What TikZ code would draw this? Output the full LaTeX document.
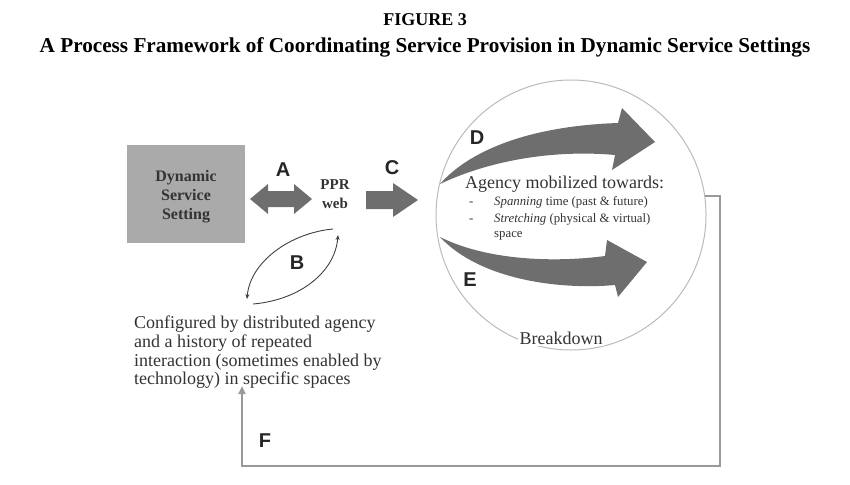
\documentclass[tikz,border=0pt]{standalone}
\usepackage{fontspec}
\setmainfont{Liberation Serif}
\newfontfamily\lettfont{Liberation Sans}
\usetikzlibrary{arrows.meta}
\definecolor{fatgray}{HTML}{6E6E6E}
\definecolor{boxgray}{HTML}{AAAAAA}
\definecolor{linegray}{HTML}{999999}
\definecolor{circgray}{HTML}{BBBBBB}
\tikzset{
  letter/.style={font=\lettfont\bfseries\fontsize{20}{20}\selectfont, text=black!85},
  fat/.style={fill=fatgray, draw=none},
  body/.style={font=\fontsize{18}{18.7}\selectfont, text=black!80},
  small/.style={font=\fontsize{12.8}{17}\selectfont, text=black!80},
  bold/.style={font=\bfseries\fontsize{16}{19}\selectfont, text=black!80},
  thin/.style={draw=black!75, line width=0.9pt, -{Stealth[length=5pt,width=4pt]}},
}
\begin{document}
\begin{tikzpicture}[x=1pt,y=-1pt]
\useasboundingbox (0,0) rectangle (850,484);
% title
\node[font=\bfseries\fontsize{18}{20}\selectfont] (t1) at (425,20) {FIGURE 3};
\node[font=\bfseries\fontsize{21.2}{22}\selectfont] (t2) at (425,47) {A Process Framework of Coordinating Service Provision in Dynamic Service Settings};
% dynamic service setting
\node[fill=boxgray, minimum width=118pt, minimum height=98pt, inner sep=0pt] (dss) at (186,194) {};
\node[bold, align=center] (dsstext) at (186,197) {Dynamic\\Service\\Setting};
% PPR web
\node[bold, font=\bfseries\fontsize{15}{19}\selectfont, align=center] (ppr) at (335,194) {PPR\\web};
% double arrow A
\fill[fat] (250,199) -- (268,184) -- (268,191) -- (294,191) -- (294,184) -- (312,199) -- (294,214) -- (294,207) -- (268,207) -- (268,214) -- cycle;
\node[letter] (A) at (283,170) {A};
% arrow C
\fill[fat] (366,191) -- (393,191) -- (393,183) -- (418,200) -- (393,217) -- (393,209) -- (366,209) -- cycle;
\node[letter] (C) at (392,168) {C};
% circle
\node[circle, draw=circgray, line width=1pt, minimum size=270pt, inner sep=0pt] (circ) at (571,215) {};
\node[body, fill=white, inner sep=2pt, anchor=base] (bd) at (561,344) {Breakdown};
% fat arrow D
\fill[fat] (440,184) .. controls (470,150) and (530,126) .. (618,123)
  -- (622,108) -- (655,142) -- (612,170) -- (615,155)
  .. controls (560,150) and (495,158) .. (440,184) -- cycle;
\node[letter] (D) at (477,138) {D};
% fat arrow E
\fill[fat] (440,237) .. controls (490,262) and (560,262) .. (605,256)
  -- (607,240) -- (647,262) -- (618,297) -- (615,285)
  .. controls (560,290) and (480,280) .. (440,237) -- cycle;
\node[letter] (E) at (470,280) {E};
% circle text
\node[body, anchor=base west, inner sep=0pt] (ag) at (465,188) {Agency mobilized towards:};
\node[small, anchor=base west, inner sep=0pt] (d1) at (469,205) {-};
\node[small, anchor=base west, inner sep=0pt] (s1) at (494,205) {\itshape Spanning\upshape{} time (past \& future)};
\node[small, anchor=base west, inner sep=0pt] (d2) at (469,222) {-};
\node[small, anchor=base west, inner sep=0pt] (s2) at (494,222) {\itshape Stretching\upshape{} (physical \& virtual)};
\node[small, anchor=base west, inner sep=0pt] (s3) at (494,237) {space};
% configured text
\node[body, align=left, anchor=north west, inner sep=0pt] (cfg) at (134,316) {Configured by distributed agency\\and a history of repeated\\interaction (sometimes enabled by\\technology) in specific spaces};
% B arcs
\coordinate (b1s) at (333,229);
\coordinate (b1e) at (247,299);
\coordinate (b2s) at (253,304);
\coordinate (b2e) at (338,235);
\draw[thin] (b1s) .. controls (290,233) and (250,262) .. (b1e);
\draw[thin] (b2s) .. controls (300,300) and (335,272) .. (b2e);
\node[letter] (B) at (297,263) {B};
% F connector
\coordinate (f1) at (720,466);
\coordinate (f2) at (242,466);
\coordinate (ftip) at (242,386);
\draw[linegray, line width=2pt, -{Triangle[length=8pt,width=7pt]}] (circ.8) -| (f1) -- (f2) -- (ftip);
\node[letter] (F) at (265,441) {F};
\end{tikzpicture}
\end{document}
